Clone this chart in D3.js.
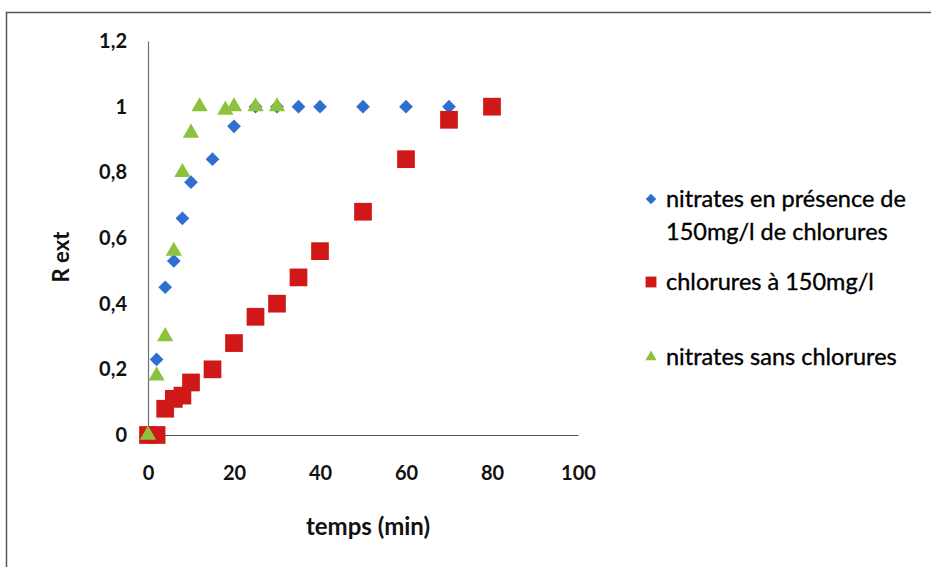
<!DOCTYPE html>
<html>
<head>
<meta charset="utf-8">
<script src="https://cdn.jsdelivr.net/npm/d3@7"></script>
<style>
  html, body { margin: 0; padding: 0; background: #fff; }
  svg { display: block; font-family: Lato, "Open Sans", sans-serif; }
</style>
</head>
<body>
<svg id="chart" width="931" height="567"></svg>
<script>
// Time (min) and extraction ratio for each series
const blueTime  = [0, 2, 4, 6, 8, 10, 15, 20, 25, 30, 35, 40, 50, 60, 70, 80];
const blueValue = [0, 0.23, 0.45, 0.53, 0.66, 0.77, 0.84, 0.94, 1, 1, 1, 1, 1, 1, 1, 1];

const redTime   = [0, 2, 4, 6, 8, 10, 15, 20, 25, 30, 35, 40, 50, 60, 70, 80];
const redValue  = [0, 0, 0.08, 0.11, 0.12, 0.16, 0.20, 0.28, 0.36, 0.40, 0.48, 0.56, 0.68, 0.84, 0.96, 1];

const greenTime  = [0, 2, 4, 6, 8, 10, 12, 18, 20, 25, 30];
const greenValue = [0, 0.18, 0.30, 0.56, 0.80, 0.92, 1, 0.99, 1, 1, 1];

const xTicks = [0, 20, 40, 60, 80, 100];
const yTicks = [0, 0.2, 0.4, 0.6, 0.8, 1, 1.2];

const seriesNames = [
  ["nitrates en présence de", "150mg/l de chlorures"],
  ["chlorures à 150mg/l"],
  ["nitrates sans chlorures"]
];

const series = [
  { name: seriesNames[0], t: blueTime,  v: blueValue,  color: "#2e6fcf", shape: d3.symbolDiamond2, size: 120, legendSize: 70 },
  { name: seriesNames[1], t: redTime,   v: redValue,   color: "#d11818", shape: d3.symbolSquare2,  size: 400, legendSize: 150 },
  { name: seriesNames[2], t: greenTime, v: greenValue, color: "#8cc23c", shape: d3.symbolTriangle2, size: 190, legendSize: 90 }
];

const svg = d3.select("#chart");

// Chart frame
svg.append("path")
  .attr("d", "M6.5,580 V12.5 H940")
  .attr("fill", "none")
  .attr("stroke", "#555")
  .attr("stroke-width", 1.5);

const x = d3.scaleLinear().domain([0, 100]).range([148, 578]);
const y = d3.scaleLinear().domain([0, 1.2]).range([435, 41]);

const fmt = d => d3.format("~g")(+d.toFixed(1)).replace(".", ",");

// Y axis
const gy = svg.append("g")
  .attr("transform", `translate(${x(0)},0)`)
  .call(d3.axisLeft(y).tickValues(yTicks).tickSize(0).tickPadding(21).tickFormat(fmt));
gy.select(".domain").attr("stroke", "#6a6f7a").attr("stroke-width", 1.2);
gy.selectAll("text").attr("font-size", 20).attr("font-weight", 700).attr("fill", "#111")
  .attr("font-family", "Lato, sans-serif");

// X axis
const gx = svg.append("g")
  .attr("transform", `translate(0,${y(0)})`)
  .call(d3.axisBottom(x).tickValues(xTicks).tickSize(0).tickPadding(31).tickFormat(d3.format("d")));
gx.select(".domain").attr("stroke", "#555").attr("stroke-width", 1.2);
gx.selectAll("text").attr("font-size", 20).attr("font-weight", 700).attr("fill", "#111")
  .attr("font-family", "Lato, sans-serif");

// Axis titles
svg.append("text")
  .attr("x", 368)
  .attr("y", 535)
  .attr("text-anchor", "middle")
  .attr("font-size", 24).attr("font-weight", 700).attr("fill", "#111")
  .text("temps (min)");

svg.append("text")
  .attr("transform", "translate(69,257) rotate(-90)")
  .attr("text-anchor", "middle")
  .attr("font-size", 22).attr("font-weight", 700).attr("fill", "#111")
  .text("R ext");

// Markers
series.forEach(s => {
  const sym = d3.symbol().type(s.shape).size(s.size);
  svg.append("g").selectAll("path")
    .data(s.t.map((t, i) => [t, s.v[i]]))
    .join("path")
    .attr("d", sym)
    .attr("transform", d => `translate(${x(d[0])},${y(d[1])})`)
    .attr("fill", s.color);
});

// Legend
const legendRows = [199, 282, 357];
const legend = svg.append("g");
series.forEach((s, i) => {
  const g = legend.append("g").attr("transform", `translate(651,${legendRows[i]})`);
  g.append("path")
    .attr("d", d3.symbol().type(s.shape).size(s.legendSize))
    .attr("fill", s.color);
  s.name.forEach((line, j) => {
    g.append("text")
      .attr("x", 15)
      .attr("y", j * 33)
      .attr("dy", "0.35em")
      .attr("font-size", 23.5).attr("fill", "#000")
      .attr("stroke", "#000").attr("stroke-width", 0.35)
      .text(line);
  });
});
</script>
</body>
</html>
